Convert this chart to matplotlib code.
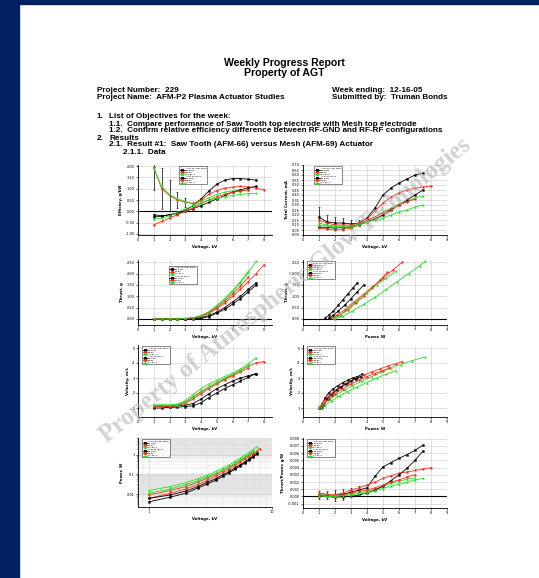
import numpy as np
import matplotlib
matplotlib.use("Agg")
import matplotlib.pyplot as plt
from matplotlib.patches import Rectangle
from matplotlib.lines import Line2D
from matplotlib.ticker import FormatStrFormatter, NullFormatter

W, H = 539, 578
NAVY = "#002060"
BLK, RED, GRN = "#000000", "#ff2a1a", "#1fe01f"

# ================= data =================
voltage = [1.0, 1.5, 2.0, 2.5, 3.0, 3.5, 4.0, 4.5, 5.0, 5.5, 6.0, 6.5, 7.0, 7.5, 8.0]

# order of series: saw tooth (black, red, green), mesh (black, red, green)
series_names = ["RF-GND", "RF-RF", "RF-RF 2", "RF-GND", "RF-RF", "RF-RF 2"]
group_names = ["AFM-66 Saw Tooth", "AFM-69 Mesh"]

# efficacy vs voltage
eff_blk1 = [-0.15, -0.2, -0.15, -0.1, 0.05, 0.25, 0.55, 0.9, 1.2, 1.38, 1.45, 1.45, 1.42, 1.38]
eff_red1 = [1.95, 1.0, 0.7, 0.5, 0.4, 0.35, 0.5, 0.75, 0.92, 1.02, 1.07, 1.1, 1.08, 1.02, 0.95]
eff_grn1 = [1.9, 1.1, 0.75, 0.55, 0.45, 0.3, 0.45, 0.6, 0.75, 0.85, 0.9, 0.92, 0.95]
eff_blk2 = [-0.25, -0.22, -0.15, -0.08, 0.0, 0.12, 0.25, 0.4, 0.55, 0.7, 0.85, 0.95, 1.05, 1.1]
eff_red2 = [-0.6, -0.45, -0.3, -0.15, 0.0, 0.15, 0.35, 0.5, 0.65, 0.75, 0.85, 0.9, 0.95]
eff_grn2 = [-0.35, -0.3, -0.2, -0.05, 0.1, 0.25, 0.38, 0.5, 0.58, 0.65, 0.7, 0.75, 0.78, 0.8]
eff_err_red1 = [1.0, 0.9, 0.7, 0.35, 0.2]

# total current vs voltage
cur_blk1 = [0.18, 0.13, 0.12, 0.12, 0.11, 0.12, 0.17, 0.27, 0.40, 0.47, 0.52, 0.56, 0.60, 0.62]
cur_red1 = [0.15, 0.12, 0.10, 0.10, 0.10, 0.12, 0.16, 0.24, 0.32, 0.38, 0.42, 0.45, 0.47, 0.48, 0.49]
cur_grn1 = [0.12, 0.10, 0.09, 0.09, 0.09, 0.11, 0.14, 0.18, 0.23, 0.27, 0.31, 0.34, 0.37, 0.39]
cur_blk2 = [0.08, 0.075, 0.07, 0.075, 0.08, 0.10, 0.13, 0.16, 0.20, 0.25, 0.30, 0.35, 0.40, 0.45]
cur_red2 = [0.07, 0.06, 0.05, 0.055, 0.07, 0.10, 0.15, 0.18, 0.22, 0.26, 0.30, 0.33, 0.36]
cur_grn2 = [0.10, 0.09, 0.08, 0.08, 0.08, 0.10, 0.13, 0.15, 0.17, 0.20, 0.23, 0.25, 0.28, 0.30]
cur_err_blk1 = [0.1, 0.07, 0.06, 0.05, 0.04, 0.03]

# thrust vs voltage
thr_blk1 = [0, 0, 0, 0, 0, 0.02, 0.05, 0.15, 0.3, 0.5, 0.75, 1.0, 1.3, 1.6]
thr_red1 = [0, 0, 0, 0, 0.01, 0.04, 0.1, 0.25, 0.45, 0.7, 1.0, 1.3, 1.65, 2.0, 2.4]
thr_grn1 = [0, 0, 0, 0, 0.02, 0.05, 0.12, 0.3, 0.55, 0.85, 1.2, 1.6, 2.05, 2.55]
thr_blk2 = [0, 0, 0, 0, 0, 0.01, 0.03, 0.1, 0.25, 0.42, 0.65, 0.9, 1.2, 1.5]
thr_red2 = [0, 0, 0, 0, 0.01, 0.04, 0.12, 0.28, 0.5, 0.78, 1.1, 1.45, 1.85]
thr_grn2 = [0, 0, 0, 0, 0.02, 0.06, 0.15, 0.32, 0.6, 0.9, 1.25, 1.65, 2.1]

# thrust vs power
tp_pw_blk1 = [1.4, 1.6, 1.9, 2.2, 2.5, 2.8, 3.1, 3.4]
tp_th_blk1 = [0.05, 0.15, 0.35, 0.6, 0.85, 1.1, 1.35, 1.6]
tp_pw_red1 = [1.7, 2.1, 2.6, 3.2, 3.8, 4.4, 5.0, 5.6, 6.2]
tp_th_red1 = [0.02, 0.15, 0.4, 0.75, 1.1, 1.45, 1.8, 2.15, 2.5]
tp_pw_grn1 = [2.0, 2.5, 3.1, 3.8, 4.5, 5.2, 5.9, 6.6, 7.3, 7.65]
tp_th_grn1 = [0.0, 0.12, 0.35, 0.65, 0.95, 1.3, 1.65, 2.0, 2.35, 2.55]
tp_pw_blk2 = [1.6, 1.9, 2.2, 2.6, 3.0, 3.4, 3.8]
tp_th_blk2 = [0.02, 0.15, 0.35, 0.6, 0.9, 1.2, 1.5]
tp_pw_red2 = [1.9, 2.3, 2.8, 3.3, 3.8, 4.3, 4.8, 5.25]
tp_th_red2 = [0.02, 0.15, 0.4, 0.7, 1.0, 1.35, 1.7, 2.05]
tp_pw_grn2 = [1.9, 2.3, 2.8, 3.4, 4.0, 4.6, 5.2, 5.8]
tp_th_grn2 = [0.02, 0.15, 0.45, 0.8, 1.15, 1.5, 1.8, 2.1]

# velocity vs voltage
vel_blk1 = [1.1, 1.1, 1.1, 1.15, 1.2, 1.3, 1.6, 1.95, 2.3, 2.55, 2.8, 3.0, 3.15, 3.3]
vel_red1 = [1.15, 1.15, 1.15, 1.2, 1.4, 1.75, 2.1, 2.4, 2.7, 2.95, 3.2, 3.5, 3.8, 4.0, 4.1]
vel_grn1 = [1.2, 1.2, 1.2, 1.25, 1.5, 1.9, 2.3, 2.6, 2.85, 3.1, 3.35, 3.6, 3.95, 4.35]
vel_blk2 = [1.0, 1.0, 1.05, 1.05, 1.1, 1.15, 1.35, 1.7, 2.0, 2.3, 2.55, 2.8, 3.05, 3.3]
vel_red2 = [1.1, 1.1, 1.1, 1.15, 1.3, 1.6, 1.95, 2.3, 2.6, 2.9, 3.15, 3.4, 3.65]
vel_grn2 = [1.2, 1.2, 1.2, 1.2, 1.35, 1.7, 2.05, 2.4, 2.7, 3.0, 3.25, 3.5, 3.8]

# velocity vs power
vp_pw_blk1 = [1.0, 1.1, 1.2, 1.4, 1.6, 1.9, 2.2, 2.5, 2.8, 3.1, 3.4, 3.7]
vp_vl_blk1 = [1.0, 1.1, 1.3, 1.7, 2.0, 2.3, 2.5, 2.7, 2.85, 3.0, 3.1, 3.25]
vp_pw_red1 = [1.0, 1.2, 1.5, 1.9, 2.3, 2.8, 3.3, 3.8, 4.3, 4.8, 5.3, 5.8, 6.2]
vp_vl_red1 = [1.0, 1.3, 1.7, 2.1, 2.4, 2.7, 2.95, 3.2, 3.4, 3.6, 3.8, 3.95, 4.1]
vp_pw_grn1 = [1.0, 1.3, 1.7, 2.1, 2.6, 3.1, 3.7, 4.3, 4.9, 5.5, 6.1, 6.8, 7.6]
vp_vl_grn1 = [1.1, 1.3, 1.6, 1.9, 2.2, 2.5, 2.8, 3.1, 3.4, 3.7, 3.9, 4.15, 4.4]
vp_pw_blk2 = [1.1, 1.2, 1.3, 1.5, 1.8, 2.1, 2.4, 2.7, 3.0, 3.3, 3.6]
vp_vl_blk2 = [1.0, 1.05, 1.2, 1.6, 1.9, 2.2, 2.4, 2.6, 2.8, 2.95, 3.1]
vp_pw_red2 = [1.1, 1.3, 1.6, 2.0, 2.5, 3.0, 3.5, 4.0, 4.5, 5.0, 5.4]
vp_vl_red2 = [1.05, 1.3, 1.6, 1.95, 2.3, 2.6, 2.85, 3.1, 3.3, 3.5, 3.65]
vp_pw_grn2 = [1.1, 1.4, 1.8, 2.3, 2.8, 3.4, 4.0, 4.6, 5.2, 5.8]
vp_vl_grn2 = [1.0, 1.2, 1.5, 1.8, 2.1, 2.4, 2.7, 3.0, 3.25, 3.5]

# power vs voltage (log-log)
pow_blk1 = [0.004, 0.007, 0.011, 0.02, 0.033, 0.05, 0.08, 0.12, 0.18, 0.26, 0.37, 0.52, 0.75, 1.05]
pow_red1 = [0.006, 0.011, 0.018, 0.03, 0.05, 0.08, 0.12, 0.18, 0.27, 0.4, 0.58, 0.8, 1.1, 1.5, 2.0]
pow_grn1 = [0.015, 0.024, 0.038, 0.06, 0.09, 0.14, 0.21, 0.31, 0.45, 0.65, 0.92, 1.3, 1.8, 2.5]
pow_blk2 = [0.006, 0.009, 0.014, 0.024, 0.04, 0.06, 0.095, 0.14, 0.21, 0.3, 0.42, 0.6, 0.85, 1.2]
pow_red2 = [0.009, 0.015, 0.024, 0.04, 0.065, 0.1, 0.15, 0.22, 0.33, 0.48, 0.68, 0.95, 1.3]
pow_grn2 = [0.011, 0.018, 0.03, 0.048, 0.075, 0.11, 0.17, 0.25, 0.37, 0.53, 0.75, 1.05, 1.45]

# thrust per power vs voltage
tpw_blk1 = [0.0002, 0.0002, 0.00015, 0.0003, 0.0006, 0.0009, 0.0012, 0.0028, 0.0041, 0.0047, 0.0053, 0.0058, 0.0064, 0.0071]
tpw_red1 = [0.0005, 0.0003, 0.0002, 0.0005, 0.0009, 0.0012, 0.0016, 0.002, 0.0025, 0.0029, 0.0032, 0.0034, 0.0036, 0.0038, 0.0040]
tpw_grn1 = [0.0002, 0.00015, 0.0001, 0.0002, 0.0004, 0.0005, 0.0007, 0.001, 0.0014, 0.0018, 0.0021, 0.0024, 0.0026]
tpw_blk2 = [0.0001, 0.0, -0.0001, -0.00005, 0.0, 0.0002, 0.0005, 0.0009, 0.0014, 0.0022, 0.003, 0.0039, 0.005, 0.0063]
tpw_red2 = [0.0001, 0.0, -0.0001, 0.0002, 0.0005, 0.0007, 0.0009, 0.0012, 0.0016, 0.002, 0.0023, 0.0027, 0.003]
tpw_grn2 = [0.0001, 0.0, 0.0, 0.0001, 0.0002, 0.0004, 0.0005, 0.0008, 0.0011, 0.0014, 0.0017, 0.002, 0.0023, 0.0025]
tpw_err_blk1 = [0.0006, 0.0006, 0.0008, 0.0008, 0.0006, 0.0005]

COLORS = [BLK, RED, GRN, BLK, RED, GRN]
MARKERS = ["s", "o", "^", "s", "o", "^"]


def px_axes(fig, box):
    l, t, r, b = box
    return fig.add_axes([l / W, 1 - b / H, (r - l) / W, (b - t) / H])


def style_axes(ax, xlabel, ylabel, zero_line=False):
    ax.spines["top"].set_visible(False)
    ax.spines["right"].set_visible(False)
    for s in ("left", "bottom"):
        ax.spines[s].set_linewidth(0.6)
    ax.grid(True, which="major", color="#c8c8c8", lw=0.4)
    ax.set_axisbelow(True)
    ax.tick_params(axis="both", which="major", labelsize=2.5, length=1.5, width=0.4, pad=1)
    ax.tick_params(axis="both", which="minor", length=0.8, width=0.3)
    ax.set_xlabel(xlabel, fontsize=2.8, fontweight="bold", labelpad=2)
    ax.set_ylabel(ylabel, fontsize=2.8, fontweight="bold", labelpad=2)
    if zero_line:
        ax.axhline(0, color="black", lw=0.8, zorder=1.5)


def draw_series(ax, xs, ys):
    for i, (x, y) in enumerate(zip(xs, ys)):
        ax.plot(x, y, color=COLORS[i], marker=MARKERS[i], ms=1.3, lw=0.6,
                mew=0.3, mec=COLORS[i], zorder=3)


def add_legend(ax, anchor):
    handles, labels = [], []
    for g in range(2):
        handles.append(Line2D([], [], color="none"))
        labels.append(group_names[g])
        for k in range(3):
            i = g * 3 + k
            handles.append(Line2D([], [], color=COLORS[i], marker=MARKERS[i], ms=1.3, lw=0.6))
            labels.append(series_names[i])
    leg = ax.legend(handles, labels, loc="upper left", bbox_to_anchor=anchor,
                    fontsize=1.6, frameon=True, fancybox=False, handlelength=2.0,
                    borderpad=0.4, labelspacing=0.25, handletextpad=0.5)
    leg.get_frame().set_linewidth(0.4)
    leg.get_frame().set_edgecolor("black")


def v_slice(vals):
    return voltage[:len(vals)]


fig = plt.figure(figsize=(W / 100, H / 100), dpi=100)
fig.patch.set_facecolor("white")
fig.add_artist(Rectangle((0, 0), 19 / W, 1, transform=fig.transFigure, color=NAVY, zorder=0))
fig.add_artist(Rectangle((0, 1 - 4 / H), 1, 4 / H, transform=fig.transFigure, color=NAVY, zorder=0))

# ================= header text =================
def ptext(x, y, s, size=5.9, **kw):
    fig.text(x / W, 1 - y / H, s, fontsize=size, family="Liberation Sans",
             fontweight="bold", va="center", **kw)

ptext(284, 63, "Weekly Progress Report", size=7.6, ha="center")
ptext(284, 73, "Property of AGT", size=7.6, ha="center")
ptext(97, 91, "Project Number:  229")
ptext(97, 98, "Project Name:  AFM-P2 Plasma Actuator Studies")
ptext(332, 91, "Week ending:  12-16-05")
ptext(332, 98, "Submitted by:  Truman Bonds")
ptext(97, 117, "1.")
ptext(109, 117, "List of Objectives for the week:")
ptext(109, 124, "1.1.  Compare performance of Saw Tooth top electrode with Mesh top electrode")
ptext(109, 131, "1.2.  Confirm relative efficiency difference between RF-GND and RF-RF configurations")
ptext(97, 138, "2.")
ptext(109, 138, "Results")
ptext(109, 145, "2.1.  Result #1:  Saw Tooth (AFM-66) versus Mesh (AFM-69) Actuator")
ptext(123, 152, "2.1.1.  Data")

# ================= charts =================
# 1. efficacy vs voltage
ax = px_axes(fig, (138, 165, 272, 235))
draw_series(ax, [v_slice(eff_blk1), v_slice(eff_red1), v_slice(eff_grn1),
                 v_slice(eff_blk2), v_slice(eff_red2), v_slice(eff_grn2)],
            [eff_blk1, eff_red1, eff_grn1, eff_blk2, eff_red2, eff_grn2])
ax.errorbar(voltage[:len(eff_err_red1)], eff_red1[:len(eff_err_red1)], yerr=eff_err_red1,
            fmt="none", ecolor=BLK, elinewidth=0.5, capsize=0.8, capthick=0.4, zorder=2.5)
ax.set_xlim(0, 8.5)
ax.set_ylim(-1.05, 2.05)
ax.set_xticks(np.arange(0, 9, 1))
ax.set_yticks(np.arange(-1.0, 2.01, 0.5))
ax.yaxis.set_major_formatter(FormatStrFormatter("%.2f"))
style_axes(ax, "Voltage, kV", "Efficacy, g/kW", zero_line=True)
add_legend(ax, (0.3, 1.0))

# 2. current vs voltage
ax = px_axes(fig, (303, 165, 447, 235))
draw_series(ax, [v_slice(cur_blk1), v_slice(cur_red1), v_slice(cur_grn1),
                 v_slice(cur_blk2), v_slice(cur_red2), v_slice(cur_grn2)],
            [cur_blk1, cur_red1, cur_grn1, cur_blk2, cur_red2, cur_grn2])
ax.errorbar(voltage[:len(cur_err_blk1)], cur_blk1[:len(cur_err_blk1)], yerr=cur_err_blk1,
            fmt="none", ecolor=BLK, elinewidth=0.5, capsize=0.8, capthick=0.4, zorder=2.5)
ax.set_xlim(0, 9)
ax.set_ylim(0, 0.70)
ax.set_xticks(np.arange(0, 10, 1))
ax.set_yticks(np.arange(0, 0.701, 0.05))
ax.yaxis.set_major_formatter(FormatStrFormatter("%.2f"))
style_axes(ax, "Voltage, kV", "Total Current, mA")
add_legend(ax, (0.07, 1.0))

# 3. thrust vs voltage
ax = px_axes(fig, (138, 260, 272, 325))
draw_series(ax, [v_slice(thr_blk1), v_slice(thr_red1), v_slice(thr_grn1),
                 v_slice(thr_blk2), v_slice(thr_red2), v_slice(thr_grn2)],
            [thr_blk1, thr_red1, thr_grn1, thr_blk2, thr_red2, thr_grn2])
ax.set_xlim(0, 8.5)
ax.set_ylim(-0.27, 2.6)
ax.set_xticks(np.arange(0, 9, 1))
ax.set_yticks(np.arange(0, 2.51, 0.5))
ax.yaxis.set_major_formatter(FormatStrFormatter("%.2f"))
style_axes(ax, "Voltage, kV", "Thrust, g", zero_line=True)
add_legend(ax, (0.22, 0.93))

# 4. thrust vs power
ax = px_axes(fig, (303, 260, 447, 325))
draw_series(ax, [tp_pw_blk1, tp_pw_red1, tp_pw_grn1, tp_pw_blk2, tp_pw_red2, tp_pw_grn2],
            [tp_th_blk1, tp_th_red1, tp_th_grn1, tp_th_blk2, tp_th_red2, tp_th_grn2])
ax.set_xlim(0, 9)
ax.set_ylim(-0.27, 2.6)
ax.set_xticks(np.arange(0, 10, 1))
ax.set_yticks(np.arange(0, 2.51, 0.5))
ax.yaxis.set_major_formatter(FormatStrFormatter("%.2f"))
style_axes(ax, "Power, W", "Thrust, g", zero_line=True)
add_legend(ax, (0.02, 1.0))

# 5. velocity vs voltage
ax = px_axes(fig, (138, 345, 272, 417))
draw_series(ax, [v_slice(vel_blk1), v_slice(vel_red1), v_slice(vel_grn1),
                 v_slice(vel_blk2), v_slice(vel_red2), v_slice(vel_grn2)],
            [vel_blk1, vel_red1, vel_grn1, vel_blk2, vel_red2, vel_grn2])
ax.set_xlim(0, 8.5)
ax.set_ylim(0.4, 5.2)
ax.set_xticks(np.arange(0, 9, 1))
ax.set_yticks(np.arange(1, 5.01, 1))
style_axes(ax, "Voltage, kV", "Velocity, m/s")
add_legend(ax, (0.02, 1.0))

# 6. velocity vs power
ax = px_axes(fig, (303, 345, 447, 417))
draw_series(ax, [vp_pw_blk1, vp_pw_red1, vp_pw_grn1, vp_pw_blk2, vp_pw_red2, vp_pw_grn2],
            [vp_vl_blk1, vp_vl_red1, vp_vl_grn1, vp_vl_blk2, vp_vl_red2, vp_vl_grn2])
ax.set_xlim(0, 9)
ax.set_ylim(0.4, 5.2)
ax.set_xticks(np.arange(0, 10, 1))
ax.set_yticks(np.arange(1, 5.01, 1))
style_axes(ax, "Power, W", "Velocity, m/s")
add_legend(ax, (0.02, 1.0))

# 7. power vs voltage, log-log
ax = px_axes(fig, (138, 438, 272, 507))
draw_series(ax, [v_slice(pow_blk1), v_slice(pow_red1), v_slice(pow_grn1),
                 v_slice(pow_blk2), v_slice(pow_red2), v_slice(pow_grn2)],
            [pow_blk1, pow_red1, pow_grn1, pow_blk2, pow_red2, pow_grn2])
ax.set_xscale("log")
ax.set_yscale("log")
ax.set_xlim(0.82, 10)
ax.set_ylim(0.0022, 7)
ax.set_xticks([1, 10])
ax.set_xticklabels(["1", "10"])
ax.set_yticks([0.01, 0.1, 1])
ax.set_yticklabels(["0.01", "0.1", "1"])
ax.xaxis.set_minor_formatter(NullFormatter())
ax.yaxis.set_minor_formatter(NullFormatter())
ax.axhspan(0.01, 0.1, color="#e6e6e6", zorder=0)
ax.axhspan(1, 7, color="#e6e6e6", zorder=0)
style_axes(ax, "Voltage, kV", "Power, W")
ax.grid(True, which="minor", color="#d8d8d8", lw=0.3)
add_legend(ax, (0.02, 1.0))

# 8. thrust per power vs voltage
ax = px_axes(fig, (303, 438, 447, 508))
draw_series(ax, [v_slice(tpw_blk1), v_slice(tpw_red1), v_slice(tpw_grn1),
                 v_slice(tpw_blk2), v_slice(tpw_red2), v_slice(tpw_grn2)],
            [tpw_blk1, tpw_red1, tpw_grn1, tpw_blk2, tpw_red2, tpw_grn2])
ax.errorbar(voltage[:len(tpw_err_blk1)], tpw_blk1[:len(tpw_err_blk1)], yerr=tpw_err_blk1,
            fmt="none", ecolor=BLK, elinewidth=0.5, capsize=0.8, capthick=0.4, zorder=2.5)
ax.set_xlim(0, 9)
ax.set_ylim(-0.0016, 0.0081)
ax.set_xticks(np.arange(0, 10, 1))
ax.set_yticks(np.arange(-0.001, 0.00801, 0.001))
ax.yaxis.set_major_formatter(FormatStrFormatter("%.3f"))
style_axes(ax, "Voltage, kV", "Thrust/Power, g/W", zero_line=True)
add_legend(ax, (0.02, 1.0))

# ================= watermark =================
fig.text(285 / W, 1 - 290 / H, "Property of Atmospheric Glow Technologies",
         rotation=39, rotation_mode="anchor", ha="center", va="center",
         fontsize=18, family="Liberation Serif", fontweight="bold",
         color="#b4b4b4", alpha=0.6, zorder=10)

fig.savefig("out.png", dpi=100)
